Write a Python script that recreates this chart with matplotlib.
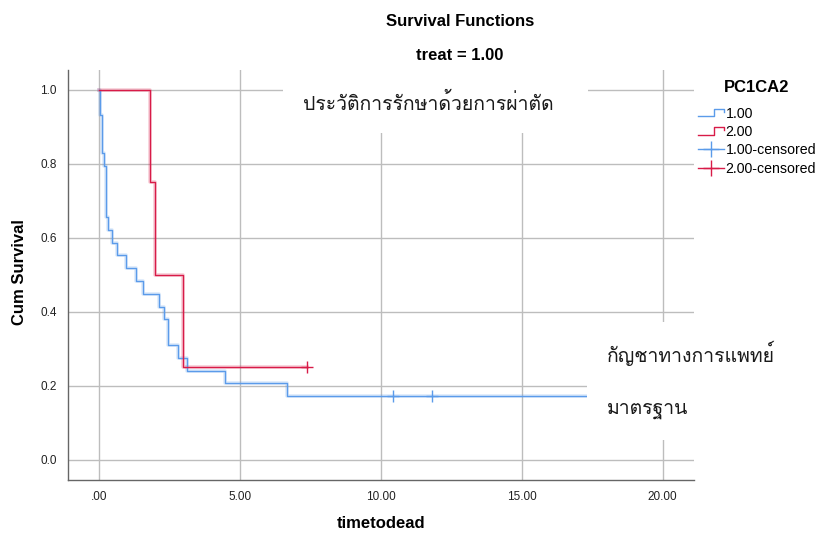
import matplotlib
matplotlib.use("Agg")
import matplotlib.pyplot as plt
from matplotlib import font_manager
from matplotlib.ft2font import FT2Font
from matplotlib.lines import Line2D
from matplotlib.legend_handler import HandlerBase
from matplotlib.patches import Rectangle

# ---------------- data ----------------
blue_times = [0.0, 0.06, 0.13, 0.18, 0.24, 0.27, 0.34, 0.47, 0.65, 0.97, 1.31,
              1.57, 2.14, 2.32, 2.47, 2.81, 3.13, 4.48, 6.69]
blue_surv = [1.0, 0.931, 0.828, 0.793, 0.724, 0.655, 0.621, 0.586, 0.552, 0.517,
             0.483, 0.448, 0.414, 0.379, 0.310, 0.276, 0.241, 0.207, 0.172]
blue_end = 17.3
blue_cens_times = [10.44, 11.83]

red_times = [0.0, 1.81, 1.99, 2.99]
red_surv = [1.0, 0.75, 0.5, 0.25]
red_end = 7.37
red_cens_times = [7.37]

x_ticks = [0, 5, 10, 15, 20]
x_tick_labels = [".00", "5.00", "10.00", "15.00", "20.00"]
y_ticks = [0.0, 0.2, 0.4, 0.6, 0.8, 1.0]
y_tick_labels = ["0.0", "0.2", "0.4", "0.6", "0.8", "1.0"]

legend_title = "PC1CA2"
legend_labels = ["1.00", "2.00", "1.00-censored", "2.00-censored"]
note_top = "ประวัติการรักษาด้วยการผ่าตัด"
note_right_1 = "กัญชาทางการแพทย์"
note_right_2 = "มาตรฐาน"

# ---------------- fonts ----------------
thai_font = None
for f in font_manager.fontManager.ttflist:
    try:
        if 0x0E01 in FT2Font(f.fname).get_charmap():
            thai_font = f.name
            break
    except Exception:
        pass
base = "Liberation Sans"
thai_family = [thai_font, "DejaVu Sans"] if thai_font else ["DejaVu Sans"]
plt.rcParams["font.family"] = [base, "DejaVu Sans"]

BLUE = "#5b9bea"
RED = "#d81b48"
GRID = "#bdbdbd"

fig = plt.figure(figsize=(8.19, 5.34), dpi=100)
ax = fig.add_axes([68 / 819, 1 - 480 / 534, 626 / 819, 410 / 534])
ax.set_xlim(-1.09, 21.11)
ax.set_ylim(-0.0549, 1.0532)

ax.set_xticks(x_ticks)
ax.set_xticklabels(x_tick_labels, fontsize=8.5)
ax.set_yticks(y_ticks)
ax.set_yticklabels(y_tick_labels, fontsize=8.5)
ax.tick_params(length=0, pad=8, colors="#222222")
ax.grid(True, color=GRID, linewidth=1.0)
ax.set_axisbelow(True)
for s in ["top", "right"]:
    ax.spines[s].set_visible(False)
for s in ["left", "bottom"]:
    ax.spines[s].set_color("#666666")
    ax.spines[s].set_linewidth(1.0)


def km(times, surv, end, color):
    xs = list(times) + [end]
    ys = list(surv) + [surv[-1]]
    ax.step(xs, ys, where="post", color=color, linewidth=2.6, alpha=0.22, zorder=3)
    ax.step(xs, ys, where="post", color=color, linewidth=1.0, zorder=4)


km(blue_times, blue_surv, blue_end, BLUE)
km(red_times, red_surv, red_end, RED)
ax.plot(blue_cens_times, [blue_surv[-1]] * len(blue_cens_times), linestyle="none",
        marker="+", markersize=9, markeredgewidth=1.0, color=BLUE, zorder=5)
ax.plot(red_cens_times, [red_surv[-1]] * len(red_cens_times), linestyle="none",
        marker="+", markersize=9, markeredgewidth=1.0, color=RED, zorder=5)

# white note boxes
ax.add_patch(Rectangle((0.343, 0.846), 0.488, 0.16, transform=ax.transAxes,
                       facecolor="white", edgecolor="none", zorder=6, clip_on=False))
ax.add_patch(Rectangle((0.829, 0.0976), 0.4, 0.2874, transform=ax.transAxes,
                       facecolor="white", edgecolor="none", zorder=6, clip_on=False))
ax.text(0.375, 0.9195, note_top, transform=ax.transAxes, fontsize=14,
        family=thai_family, va="center", ha="left", zorder=7, color="#1a1a1a")
ax.text(0.861, 0.310, note_right_1, transform=ax.transAxes, fontsize=14,
        family=thai_family, va="center", ha="left", zorder=7, color="#1a1a1a")
ax.text(0.861, 0.171, note_right_2, transform=ax.transAxes, fontsize=14,
        family=thai_family, va="center", ha="left", zorder=7, color="#1a1a1a")

# titles and labels
fig.text(460 / 819, 1 - 21 / 534, "Survival Functions", ha="center", va="center",
         fontsize=12, fontweight="bold")
fig.text(460 / 819, 1 - 56 / 534, "treat = 1.00", ha="center", va="center",
         fontsize=12, fontweight="bold")
fig.text(381 / 819, 1 - 523 / 534, "timetodead", ha="center", va="center",
         fontsize=12, fontweight="bold")
fig.text(20 / 819, 1 - 272 / 534, "Cum Survival", ha="center", va="center",
         fontsize=12, fontweight="bold", rotation=90)


class StepHandler(HandlerBase):
    def create_artists(self, legend, orig_handle, xdescent, ydescent, width,
                       height, fontsize, trans):
        lo = -ydescent + height * 0.15
        hi = -ydescent + height * 0.9
        x0 = -xdescent
        xs = [x0, x0 + width * 0.62, x0 + width * 0.62, x0 + width, x0 + width]
        ys = [lo, lo, hi, hi, hi - height * 0.3]
        ln = Line2D(xs, ys, color=orig_handle.get_color(), linewidth=1.0,
                    transform=trans)
        return [ln]


h1 = Line2D([], [], color=BLUE)
h2 = Line2D([], [], color=RED)
h3 = Line2D([], [], color=BLUE, marker="+", markersize=11, markeredgewidth=1.0,
            linewidth=1.0)
h4 = Line2D([], [], color=RED, marker="+", markersize=11, markeredgewidth=1.0,
            linewidth=1.0)
fig.text(757 / 819, 1 - 87 / 534, legend_title, ha="center", va="center",
         fontsize=12, fontweight="bold")
leg = fig.legend([h1, h2, h3, h4], legend_labels, loc="upper left",
                 bbox_to_anchor=(695 / 819, 1 - 104 / 534), frameon=False,
                 fontsize=10.2,
                 handler_map={h1: StepHandler(), h2: StepHandler()},
                 handlelength=1.85, handletextpad=0.1, labelspacing=0.3,
                 borderpad=0.2, borderaxespad=0)

fig.savefig("out.png", dpi=100)
